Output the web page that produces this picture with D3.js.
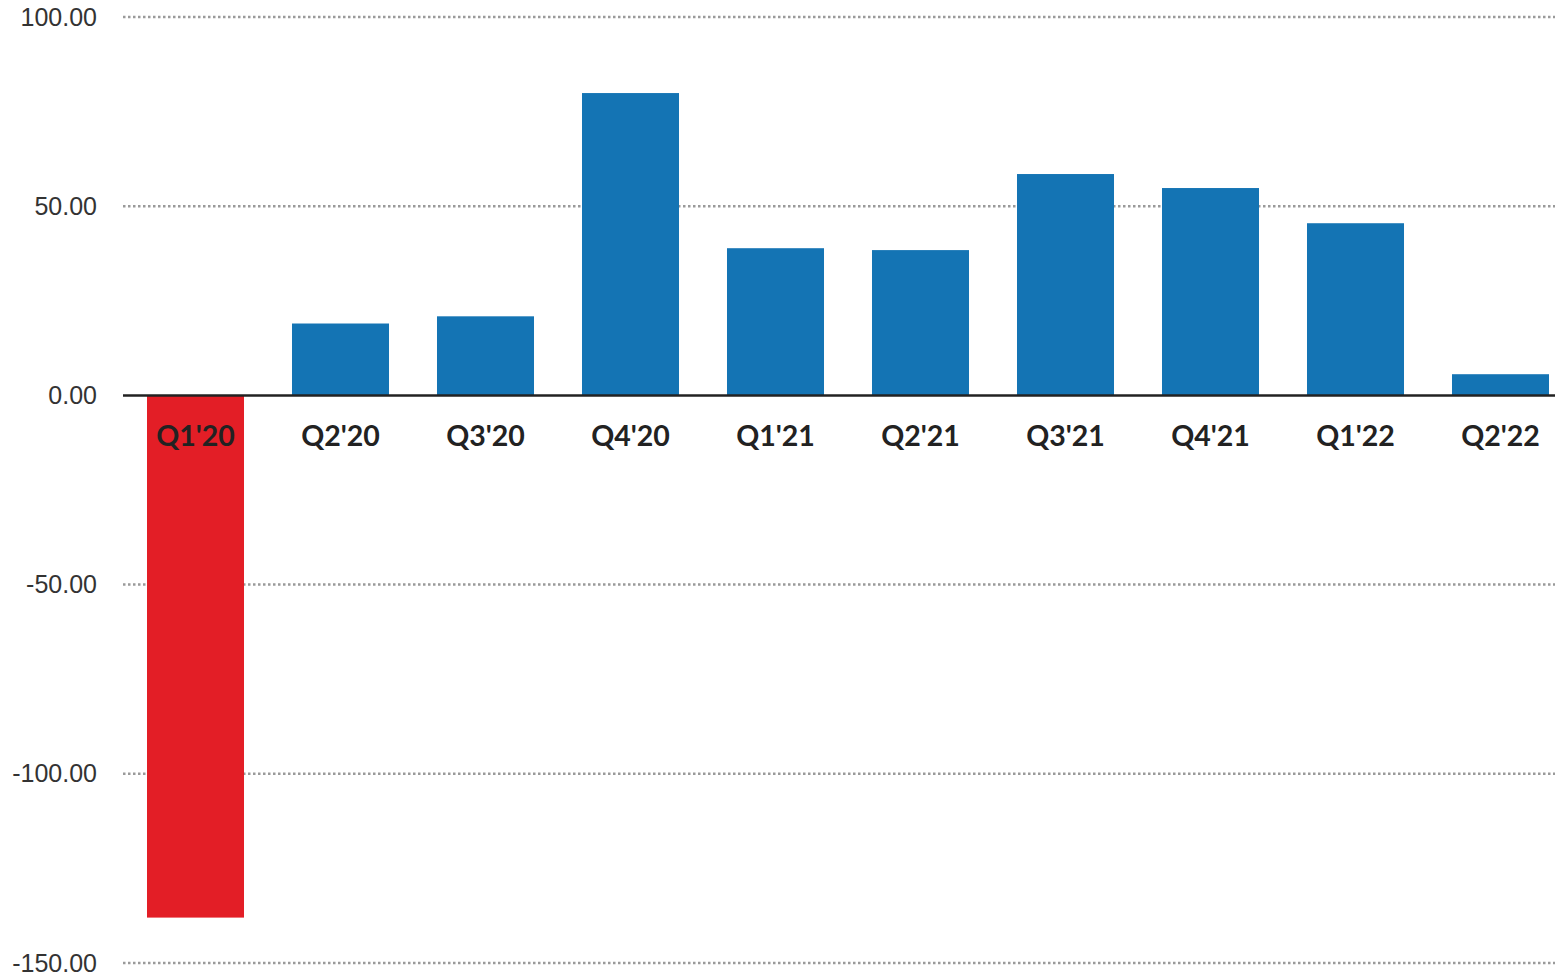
<!DOCTYPE html>
<html>
<head>
<meta charset="utf-8">
<script src="https://cdn.jsdelivr.net/npm/d3@7"></script>
<style>
  body { margin: 0; background: #fff; }
  svg { display: block; font-family: Lato, "Open Sans", sans-serif; }
</style>
</head>
<body>
<div id="chart"></div>
<script>
var quarters = ["Q1'20", "Q2'20", "Q3'20", "Q4'20", "Q1'21", "Q2'21", "Q3'21", "Q4'21", "Q1'22", "Q2'22"],
    values = [-138.0, 19.0, 20.9, 79.9, 38.9, 38.4, 58.5, 54.8, 45.5, 5.6],
    yTicks = [-150, -100, -50, 0, 50, 100];

var width = 1555,
    height = 973;

var svg = d3.select('#chart').append('svg')
    .attr('width', width)
    .attr('height', height);

var x = d3.scaleBand()
    .domain(quarters)
    .range([123, 1573])
    .paddingInner(0.331)
    .paddingOuter(0.1655);

var y = d3.scaleLinear()
    .domain([-150, 100])
    .range([963, 17]);

// tick labels use a plain hyphen for negatives, like the original
var fmt = function (d) { return d3.format('.2f')(d).replace('\u2212', '-'); };

var yAxis = svg.append('g')
    .attr('transform', 'translate(123,0)')
    .call(d3.axisLeft(y)
        .tickValues(yTicks)
        .tickSize(0)
        .tickPadding(26)
        .tickFormat(fmt));
yAxis.select('.domain').remove();
yAxis.selectAll('text')
    .attr('fill', '#333')
    .attr('font-size', 25)
    .attr('font-weight', 300);

// dotted gridlines
svg.append('g').selectAll('line')
    .data(yTicks.filter(function (d) { return d !== 0; }))
    .enter().append('line')
    .attr('x1', 123)
    .attr('x2', width)
    .attr('y1', y)
    .attr('y2', y)
    .attr('stroke', '#9a9a9a')
    .attr('stroke-width', 2.5)
    .attr('stroke-dasharray', '2.5,2.5');

// bars
svg.append('g').selectAll('rect')
    .data(values)
    .enter().append('rect')
    .attr('x', function (d, i) { return x(quarters[i]); })
    .attr('width', x.bandwidth())
    .attr('y', function (d) { return y(Math.max(0, d)); })
    .attr('height', function (d) { return Math.abs(y(d) - y(0)); })
    .attr('fill', function (d) { return d < 0 ? '#e31e26' : '#1474b4'; });

// zero line
svg.append('line')
    .attr('x1', 123)
    .attr('x2', width)
    .attr('y1', y(0))
    .attr('y2', y(0))
    .attr('stroke', '#222')
    .attr('stroke-width', 2.5);

// category labels
svg.append('g').selectAll('text')
    .data(quarters)
    .enter().append('text')
    .attr('x', function (d) { return x(d) + x.bandwidth() / 2; })
    .attr('y', 446)
    .attr('text-anchor', 'middle')
    .attr('font-size', 28.5)
    .attr('font-weight', 'bold')
    .attr('fill', '#222')
    .text(function (d) { return d; });
</script>
</body>
</html>
